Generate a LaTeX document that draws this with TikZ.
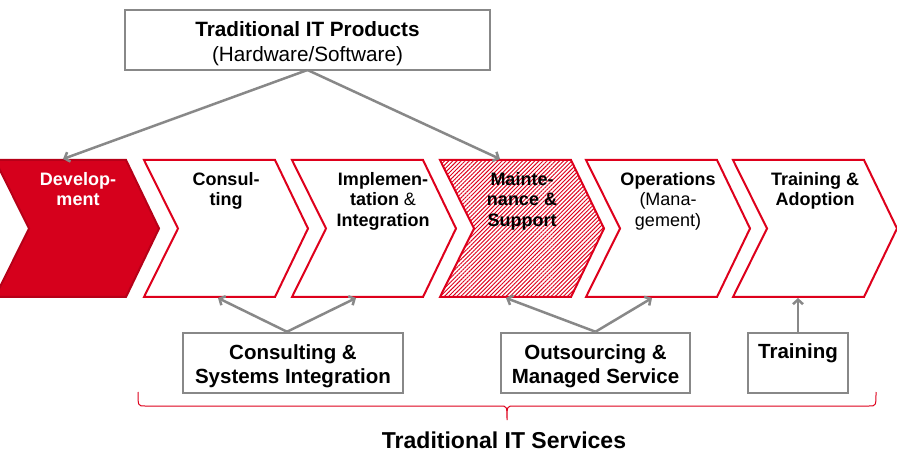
\documentclass[tikz,border=0pt]{standalone}
\usepackage{fontspec}
\setmainfont{Liberation Sans}
\usetikzlibrary{arrows.meta,patterns.meta,calc}
\definecolor{cred}{RGB}{222,0,28}
\definecolor{dred}{RGB}{214,0,28}
\definecolor{cgray}{RGB}{136,136,136}
\tikzset{
  chevtext/.style={anchor=north, inner sep=0pt, align=center, font=\fontsize{18}{20.5}\selectfont\bfseries},
  graybox/.style={draw=cgray, line width=2.5pt, fill=white, minimum height=60pt, inner sep=0pt},
  boxtext/.style={inner sep=0pt, align=center, font=\fontsize{20.5}{24}\selectfont\bfseries},
  conn/.style={draw=cgray, line width=2.5pt, -{Straight Barb[length=4.5pt,width=10pt]}},
  chevron/.pic={\path[pic actions] (0,0) -- (131,0) -- (164,68.5) -- (131,137) -- (0,137) -- (34,68.5) -- cycle;},
  chevline/.style={draw=cred, line width=2pt, line join=miter},
  bracestyle/.style={draw=cred, line width=1pt}
}
\begin{document}
\begin{tikzpicture}[x=1pt,y=-1pt]
\useasboundingbox (0,0) rectangle (897,462);
\clip (0,0) rectangle (897,462);
\fill[white] (0,0) rectangle (897,462);
% chevrons
\pic[chevline, fill=dred, draw=dred!85!black] at (-5,160) {chevron};
\pic[chevline, fill=white] at (144,160) {chevron};
\pic[chevline, fill=white] at (292,160) {chevron};
\pic[pattern={Lines[angle=45,distance=2.9pt,line width=0.95pt]}, pattern color=cred] at (440,160) {chevron};
\pic[chevline] at (440,160) {chevron};
\pic[chevline, fill=white] at (586,160) {chevron};
\pic[chevline, fill=white] at (733,160) {chevron};
% chevron texts
\node[chevtext, text=white] (tdev) at (78,172) {Develop-\\ment};
\node[chevtext] (tcon) at (226,172) {Consul-\\ting};
\node[chevtext] (timp) at (383,172) {Implemen-\\tation {\mdseries\&}\\Integration};
\node[chevtext] (tmai) at (522,172) {Mainte-\\nance \&\\Support};
\node[chevtext] (tops) at (668,172) {Operations\\{\mdseries(Mana-}\\{\mdseries gement)}};
\node[chevtext] (ttra) at (815,172) {Training \&\\Adoption};
% connector end points on the chevrons
\coordinate (devT) at (63,159);
\coordinate (maiT) at (500,159);
\coordinate (conB) at (218,298);
\coordinate (impB) at (356,298);
\coordinate (maiB) at (506,298);
\coordinate (opsB) at (652,298);
\coordinate (traB) at (798,298);
% top box
\coordinate (topA) at (307.5,70);
\draw[conn] (topA) -- (devT);
\draw[conn] (topA) -- (maiT);
\node[graybox, minimum width=365pt] (top) at (307.5,40) {};
\node[boxtext, font=\fontsize{20.7}{25}\selectfont\bfseries] (toptext) at (307.5,44) {Traditional IT Products\\{\mdseries (Hardware/Software)}};
% bottom boxes
\node[graybox, minimum width=220pt] (csi) at (293,363) {};
\node[boxtext] (csitext) at (293,366) {Consulting \&\\Systems Integration};
\node[graybox, minimum width=189pt] (oms) at (595.5,363) {};
\node[boxtext] (omstext) at (595.5,366) {Outsourcing \&\\Managed Service};
\node[graybox, minimum width=100pt] (trb) at (798,363) {};
\node[boxtext] (trt) at (798,353) {Training};
\coordinate (csiA) at ($(csi.north)+(-6,0)$);
\draw[conn] (csiA) -- (conB);
\draw[conn] (csiA) -- (impB);
\draw[conn] (oms.north) -- (maiB);
\draw[conn] (oms.north) -- (opsB);
\draw[conn] (trb.north) -- (traB);
% brace
\draw[bracestyle] (138,392) .. controls (138,406) .. (145,406) -- (500,406) .. controls (507,406) .. (507,420) .. controls (507,406) .. (514,406) -- (869,406) .. controls (876,406) .. (876,392);
\node[inner sep=0pt, font=\fontsize{23}{27}\selectfont\bfseries] (tits) at (504,440) {Traditional IT Services};
\end{tikzpicture}
\end{document}
